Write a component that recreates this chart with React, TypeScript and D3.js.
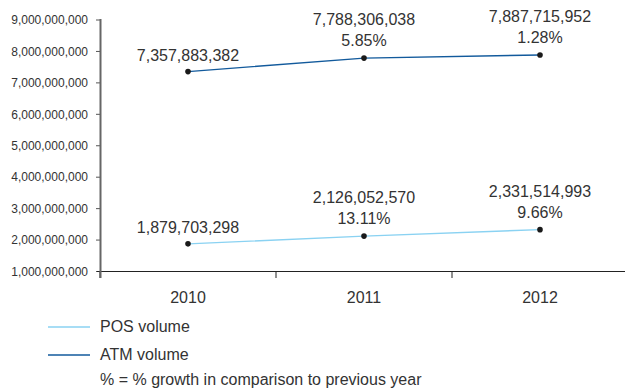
import React from "react";
import * as d3 from "d3";

const years = ["2010", "2011", "2012"];
const posVolume = [1879703298, 2126052570, 2331514993];
const atmVolume = [7357883382, 7788306038, 7887715952];
const posGrowth = [null, "13.11%", "9.66%"];
const atmGrowth = [null, "5.85%", "1.28%"];
const yTicks = [1e9, 2e9, 3e9, 4e9, 5e9, 6e9, 7e9, 8e9, 9e9];
const legendItems = ["POS volume", "ATM volume"];
const footnote = "% = % growth in comparison to previous year";

const W = 625;
const H = 391;
const POS_COLOR = "#8ad2f2";
const ATM_COLOR = "#125a9c";
const TEXT = "#333333";
const FONT = "'Liberation Sans', Arial, sans-serif";

export default function App() {
  const x = d3.scaleBand<string>().domain(years).range([100, 628]);
  const y = d3.scaleLinear().domain([1e9, 9e9]).range([271.5, 20]);
  const fmt = d3.format(",");
  const cx = (yr: string) => (x(yr) as number) + x.bandwidth() / 2;
  const line = d3
    .line<number>()
    .x((_, i) => cx(years[i]))
    .y((v) => y(v));

  const series = [
    { values: posVolume, growth: posGrowth, color: POS_COLOR },
    { values: atmVolume, growth: atmGrowth, color: ATM_COLOR },
  ];

  return (
    <svg
      width={W}
      height={H}
      style={{ position: "absolute", left: 0, top: 0, background: "#fff" }}
      fontFamily={FONT}
    >
      {/* y axis */}
      {yTicks.map((t) => (
        <g key={t}>
          <line x1={96} x2={100} y1={y(t)} y2={y(t)} stroke="#555" strokeWidth={1} />
          <text x={88} y={y(t)} dy="0.35em" textAnchor="end" fontSize={12} fill={TEXT}>
            {fmt(t)}
          </text>
        </g>
      ))}
      {/* x axis */}
      <line x1={97} x2={W} y1={y(1e9)} y2={y(1e9)} stroke="#222" strokeWidth={1.2} />
      {years.map((yr) => (
        <line
          key={yr}
          x1={x(yr) as number}
          x2={x(yr) as number}
          y1={y(1e9)}
          y2={278}
          stroke="#222"
          strokeWidth={1}
        />
      ))}
      <line x1={100.5} x2={100.5} y1={19} y2={278} stroke="#666" strokeWidth={2} />
      {years.map((yr) => (
        <text key={yr} x={cx(yr)} y={303} textAnchor="middle" fontSize={16} fill={TEXT}>
          {yr}
        </text>
      ))}

      {/* series */}
      {series.map((s, si) => (
        <g key={si}>
          <path d={line(s.values) as string} fill="none" stroke={s.color} strokeWidth={1.4} />
          {s.values.map((v, i) => {
            const px = cx(years[i]);
            const py = y(v);
            const g = s.growth[i];
            return (
              <g key={i}>
                <circle cx={px} cy={py} r={2.8} fill="#1a1a1a" />
                {g ? (
                  <>
                    <text x={px} y={py - 33} textAnchor="middle" fontSize={16} fill={TEXT}>
                      {fmt(v)}
                    </text>
                    <text x={px} y={py - 12} textAnchor="middle" fontSize={16} fill={TEXT}>
                      {g}
                    </text>
                  </>
                ) : (
                  <text x={px} y={py - 11} textAnchor="middle" fontSize={16} fill={TEXT}>
                    {fmt(v)}
                  </text>
                )}
              </g>
            );
          })}
        </g>
      ))}

      {/* legend */}
      {legendItems.map((name, i) => (
        <g key={name}>
          <line
            x1={48}
            x2={90}
            y1={327 + i * 28}
            y2={327 + i * 28}
            stroke={series[i].color}
            strokeWidth={1.4}
          />
          <text x={100} y={332 + i * 28} fontSize={16} fill={TEXT}>
            {name}
          </text>
        </g>
      ))}
      <text x={100} y={385} fontSize={16} fill={TEXT}>
        {footnote}
      </text>
    </svg>
  );
}
